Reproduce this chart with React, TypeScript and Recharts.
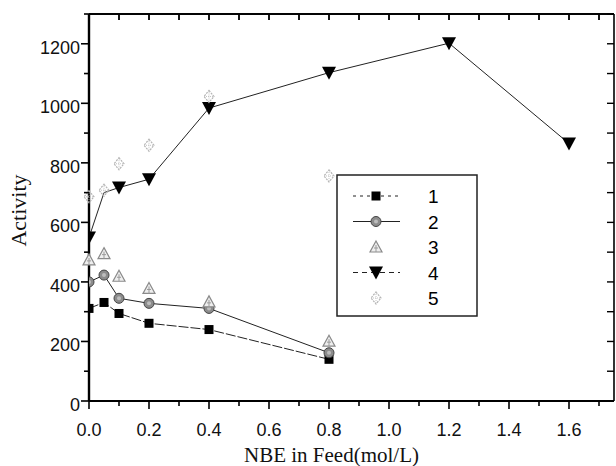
import React from 'react';
import { LineChart, Line, XAxis, YAxis, Label, ReferenceLine } from 'recharts';

// ---- data ----
const X_TICKS = [0, 0.1, 0.2, 0.3, 0.4, 0.5, 0.6, 0.7, 0.8, 0.9, 1.0, 1.1, 1.2, 1.3, 1.4, 1.5, 1.6, 1.7];
const Y_TICKS = [0, 100, 200, 300, 400, 500, 600, 700, 800, 900, 1000, 1100, 1200, 1300];
const Y_MAX = 1300;

const s1X = [0, 0.05, 0.1, 0.2, 0.4, 0.8];
const s1Y = [311, 331, 294, 261, 240, 140];

const s2X = [0, 0.05, 0.1, 0.2, 0.4, 0.8];
const s2Y = [400, 423, 345, 328, 311, 162];

const s3X = [0, 0.05, 0.1, 0.2, 0.4, 0.8];
const s3Y = [474, 495, 419, 378, 333, 201];

const s4X = [0, 0.05, 0.1, 0.2, 0.4, 0.8, 1.2, 1.6];
const s4Y = [549, 700, 717, 745, 984, 1103, 1202, 865];

const s5X = [0, 0.05, 0.1, 0.2, 0.4, 0.8];
const s5Y = [686, 708, 797, 859, 1023, 756];

const LEGEND_LABELS = ['1', '2', '3', '4', '5'];

const zip = (xs: number[], ys: number[]) => xs.map((x, i) => ({ x, y: ys[i] }));
const d1 = zip(s1X, s1Y);
const d2 = zip(s2X, s2Y);
const d3 = zip(s3X, s3Y);
const d4 = zip(s4X, s4Y);
const d5 = zip(s5X, s5Y);

const SANS = '"Liberation Sans", Arial, Helvetica, sans-serif';
const SERIF = '"Liberation Serif", "Times New Roman", Times, serif';

// ---- layout constants ----
const CHART_W = 616;
const CHART_H = 466;
const M_TOP = 4;
const M_RIGHT = 1;
const TOP_AXIS_H = 10;
const LEFT_AXIS_W = 89;
const RIGHT_AXIS_W = 1;
const PLOT_TOP = M_TOP + TOP_AXIS_H;
const PLOT_W = CHART_W - M_RIGHT - LEFT_AXIS_W - RIGHT_AXIS_W;

// ---- markers ----
const Square = ({ cx, cy }: any) => (
  <rect x={cx - 4.5} y={cy - 4.5} width={9} height={9} fill="#000" />
);
const Circle = ({ cx, cy }: any) => (
  <g>
    <circle cx={cx} cy={cy} r={5} fill="#8c8c8c" stroke="#444" strokeWidth={1} />
    <circle cx={cx} cy={cy} r={2} fill="#bdbdbd" />
  </g>
);
const TriUp = ({ cx, cy }: any) => (
  <g>
    <path d={`M${cx},${cy - 6} L${cx + 6},${cy + 5} L${cx - 6},${cy + 5} Z`} fill="#eeeeee" stroke="#8a8a8a" strokeWidth={1.2} />
    <path d={`M${cx - 2},${cy + 1} L${cx + 2},${cy + 1} M${cx},${cy - 2} L${cx},${cy + 5}`} stroke="#9a9a9a" strokeWidth={1} />
  </g>
);
const TriDown = ({ cx, cy }: any) => (
  <path d={`M${cx - 7},${cy - 6} L${cx + 7},${cy - 6} L${cx},${cy + 7} Z`} fill="#000" />
);
const Cross = ({ cx, cy }: any) => (
  <g>
    <path d={`M${cx},${cy - 6} L${cx + 5},${cy} L${cx},${cy + 6} L${cx - 5},${cy} Z`} fill="none" stroke="#b5b5b5" strokeWidth={1.2} strokeDasharray="2 1" />
    <path d={`M${cx - 5},${cy} L${cx + 5},${cy} M${cx},${cy - 6} L${cx},${cy + 6}`} stroke="#c4c4c4" strokeWidth={1} strokeDasharray="1 1" />
  </g>
);
const TriDownSkip = (p: any) => (p.index === 1 ? <g key={p.index} /> : <TriDown key={p.index} {...p} />);

// ---- ticks ----
const isMajorX = (v: number) => Math.round(v * 10) % 2 === 0;
const BottomTick = ({ x, y, payload }: any) => {
  const major = isMajorX(payload.value);
  return (
    <g>
      <line x1={x} y1={y} x2={x} y2={y + (major ? 8 : 5)} stroke="#000" strokeWidth={1.6} />
      {/* matching inward tick on the top frame edge */}
      <line x1={x} y1={PLOT_TOP} x2={x} y2={PLOT_TOP + 6} stroke="#000" strokeWidth={1.4} />
      {major && (
        <text x={x} y={y + 35} textAnchor="middle" fontFamily={SANS} fontSize={18} fill="#111">
          {payload.value.toFixed(1)}
        </text>
      )}
    </g>
  );
};
const TopTick = ({ x, y }: any) => (
  <line x1={x} y1={y} x2={x} y2={y + 6} stroke="#000" strokeWidth={1.4} />
);
const isMajorY = (v: number) => v % 200 === 0;
const LeftTick = ({ x, y, payload }: any) => {
  const major = isMajorY(payload.value);
  return (
    <g>
      <line x1={x} y1={y} x2={x - (major ? 8 : 5)} y2={y} stroke="#000" strokeWidth={1.6} />
      {payload.value === Y_MAX && (
        <line x1={x} y1={y} x2={x + PLOT_W} y2={y} stroke="#000" strokeWidth={1.6} />
      )}
      {major && payload.value <= 1200 && (
        <text x={x - 9} y={y + 4} textAnchor="end" dominantBaseline="central" fontFamily={SANS} fontSize={18} fill="#111">
          {payload.value}
        </text>
      )}
    </g>
  );
};
const RightTick = ({ x, y }: any) => (
  <line x1={x} y1={y} x2={x - 7} y2={y} stroke="#000" strokeWidth={1.4} />
);

// ---- legend ----
const LegendBox = () => {
  const rows = [
    { dash: '3 4', line: true, M: Square },
    { dash: undefined, line: true, M: Circle },
    { dash: undefined, line: false, M: TriUp },
    { dash: '5 4', line: true, M: TriDown },
    { dash: undefined, line: false, M: Cross },
  ];
  return (
    <svg width={142} height={143} style={{ display: 'block' }}>
      <rect x={1} y={1} width={140} height={141} fill="#fff" stroke="#222" strokeWidth={1.5} />
      {rows.map((r, i) => {
        const y = 22 + i * 25.5;
        return (
          <g key={i}>
            {r.line && <line x1={17} y1={y} x2={64} y2={y} stroke="#222" strokeWidth={1} strokeDasharray={r.dash} />}
            <r.M cx={40} cy={y} />
            <text x={92} y={y + 7} fontFamily={SANS} fontSize={19} fill="#000">{LEGEND_LABELS[i]}</text>
          </g>
        );
      })}
    </svg>
  );
};

export default function App() {
  return (
    <div style={{ position: 'absolute', left: 0, top: 0, width: CHART_W, height: CHART_H, background: '#fff' }}>
      <LineChart width={CHART_W} height={CHART_H} margin={{ top: M_TOP, right: M_RIGHT, bottom: 0, left: 0 }}>
        <XAxis
          xAxisId="b"
          dataKey="x"
          type="number"
          domain={[0, 1.75]}
          ticks={X_TICKS}
          interval={0}
          allowDataOverflow
          height={65}
          tickSize={0}
          tickMargin={0}
          tick={<BottomTick />}
          axisLine={{ stroke: '#000', strokeWidth: 2 }}
        >
          <Label
            content={({ viewBox }: any) => (
              <text x={viewBox.x + viewBox.width / 2 - 20} y={viewBox.y + 61} textAnchor="middle" fontFamily={SERIF} fontSize={21} fill="#111">
                NBE in Feed(mol/L)
              </text>
            )}
          />
        </XAxis>
        <XAxis
          xAxisId="t"
          orientation="top"
          dataKey="x"
          type="number"
          domain={[0, 1.75]}
          ticks={X_TICKS}
          interval={0}
          height={TOP_AXIS_H}
          tickSize={0}
          tickMargin={0}
          tick={<TopTick />}
          axisLine={{ stroke: '#000', strokeWidth: 1.6 }}
        />
        <YAxis
          yAxisId="l"
          type="number"
          domain={[0, Y_MAX]}
          ticks={Y_TICKS}
          interval={0}
          allowDataOverflow
          width={LEFT_AXIS_W}
          tickSize={0}
          tickMargin={0}
          tick={<LeftTick />}
          axisLine={{ stroke: '#000', strokeWidth: 2.4 }}
        >
          <Label
            content={({ viewBox }: any) => {
              const cx = 26;
              const cy = viewBox.y + viewBox.height / 2 + 3;
              return (
                <text x={cx} y={cy} transform={`rotate(-90 ${cx} ${cy})`} textAnchor="middle" fontFamily={SERIF} fontSize={22} fill="#111">
                  Activity
                </text>
              );
            }}
          />
        </YAxis>
        <YAxis
          yAxisId="r"
          orientation="right"
          type="number"
          domain={[0, Y_MAX]}
          ticks={Y_TICKS}
          interval={0}
          width={RIGHT_AXIS_W}
          tickSize={0}
          tickMargin={0}
          tick={<RightTick />}
          axisLine={{ stroke: '#000', strokeWidth: 1.6 }}
        />
        <ReferenceLine xAxisId="b" yAxisId="l" y={Y_MAX} stroke="#000" strokeWidth={1.6} ifOverflow="extendDomain" />
        <Line xAxisId="b" yAxisId="l" data={d1} dataKey="y" name="1" stroke="#222" strokeWidth={1} strokeDasharray="10 2" dot={<Square />} isAnimationActive={false} />
        <Line xAxisId="b" yAxisId="l" data={d2} dataKey="y" name="2" stroke="#222" strokeWidth={1} dot={<Circle />} isAnimationActive={false} />
        <Line xAxisId="t" yAxisId="r" data={d3} dataKey="y" name="3" stroke="none" dot={<TriUp />} isAnimationActive={false} />
        <Line xAxisId="b" yAxisId="l" data={d4} dataKey="y" name="4" stroke="#222" strokeWidth={1} dot={TriDownSkip} isAnimationActive={false} />
        <Line xAxisId="t" yAxisId="r" data={d5} dataKey="y" name="5" stroke="none" dot={<Cross />} isAnimationActive={false} />
      </LineChart>
      <div style={{ position: 'absolute', left: 336, top: 174, width: 142, height: 143 }}>
        <LegendBox />
      </div>
    </div>
  );
}
